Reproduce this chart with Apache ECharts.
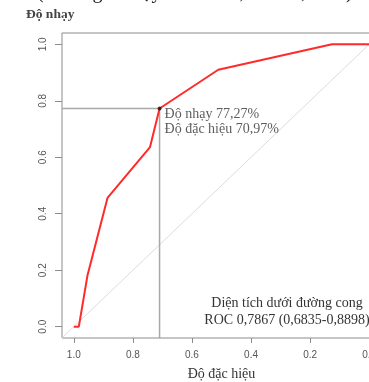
<!DOCTYPE html>
<html><head><meta charset="utf-8">
<script src="https://cdn.jsdelivr.net/npm/echarts@6/dist/echarts.min.js"></script>
<style>html,body{margin:0;padding:0;background:#fff}#c{width:369px;height:382px}</style>
</head><body><div id="c"></div>
<script>
// ROC curve data (specificity on reversed x-axis, sensitivity on y-axis)
const specificity = [1.0, 0.983, 0.954, 0.886, 0.742, 0.7097, 0.511, 0.126, 0.0];
const sensitivity = [0.0, 0.0, 0.18, 0.456, 0.636, 0.7727, 0.910, 1.0, 1.0];
const xTicks = [0, 0.2, 0.4, 0.6, 0.8, 1.0];
const yTicks = [0, 0.2, 0.4, 0.6, 0.8, 1.0];
const axisMin = -0.04, axisMax = 1.04;
const cutSpec = 0.7097, cutSens = 0.7727;
const cutLabels = ['Độ nhạy 77,27%', 'Độ đặc hiệu 70,97%'];
const aucLabels = ['Diện tích dưới đường cong', 'ROC 0,7867 (0,6835-0,8898)'];
const topText = '0,7867 (khoảng tin cậy 95% từ 0,6835-0,8898)';

const serif = '"Liberation Serif", "DejaVu Serif", serif';
const sans = '"Liberation Sans", Arial, sans-serif';
const chart = echarts.init(document.getElementById('c'));
chart.setOption({
  animation: false,
  backgroundColor: '#fff',
  grid: { left: 62, top: 33, right: -12, bottom: 44, show: true, borderColor: '#8c8c8c', borderWidth: 1, outerBoundsMode: 'none', containLabel: false },
  xAxis: {
    type: 'value', min: axisMin, max: axisMax, inverse: true,
    name: 'Độ đặc hiệu', nameLocation: 'middle', nameGap: 29,
    nameTextStyle: { fontFamily: serif, fontSize: 14, color: '#333' },
    axisLine: { show: false, onZero: false }, splitLine: { show: false },
    axisTick: { show: true, length: 5, lineStyle: { color: '#8c8c8c' }, customValues: xTicks },
    axisLabel: { customValues: xTicks, formatter: v => v.toFixed(1), fontFamily: sans, fontSize: 10, color: '#555', margin: 12 }
  },
  yAxis: {
    type: 'value', min: axisMin, max: axisMax,
    axisLine: { show: false, onZero: false }, splitLine: { show: false },
    axisTick: { show: true, length: 7, lineStyle: { color: '#8c8c8c' }, customValues: yTicks },
    axisLabel: { customValues: yTicks, formatter: v => v.toFixed(1), rotate: 90, fontFamily: sans, fontSize: 10, color: '#555', margin: 14 }
  },
  graphic: [
    { type: 'text', x: -23, y: 3, silent: true, style: { text: topText, font: '20px ' + serif, fill: '#222', verticalAlign: 'bottom' } },
    { type: 'text', x: 26, y: 8, silent: true, style: { text: 'Độ nhạy', font: 'bold 13.5px ' + serif, fill: '#444' } },
    { type: 'text', x: 287, y: 295, silent: true, style: { text: aucLabels.join('\n'), font: '14px ' + serif, fill: '#333', align: 'center', lineHeight: 17 } }
  ],
  series: [
    { type: 'line', data: [[axisMax, axisMin], [axisMin, axisMax]], symbol: 'none', lineStyle: { color: '#dcdcdc', width: 1 }, silent: true, z: 1 },
    { type: 'line', data: [[cutSpec, axisMin], [cutSpec, cutSens], [axisMax, cutSens]], symbol: 'none', lineStyle: { color: '#a8a8a8', width: 1.5 }, silent: true, z: 2 },
    { type: 'line', data: specificity.map((s, i) => [s, sensitivity[i]]), symbol: 'none', lineStyle: { color: '#ff2a2a', width: 2 }, silent: true, z: 3 },
    { type: 'scatter', data: [[cutSpec, cutSens]], symbolSize: 4, itemStyle: { color: '#111' }, silent: true, z: 4,
      label: { show: true, position: [7, 0], align: 'left', verticalAlign: 'top', formatter: cutLabels.join('\n'), fontFamily: serif, fontSize: 14, color: '#333', lineHeight: 15 } }
  ]
});
</script></body></html>
